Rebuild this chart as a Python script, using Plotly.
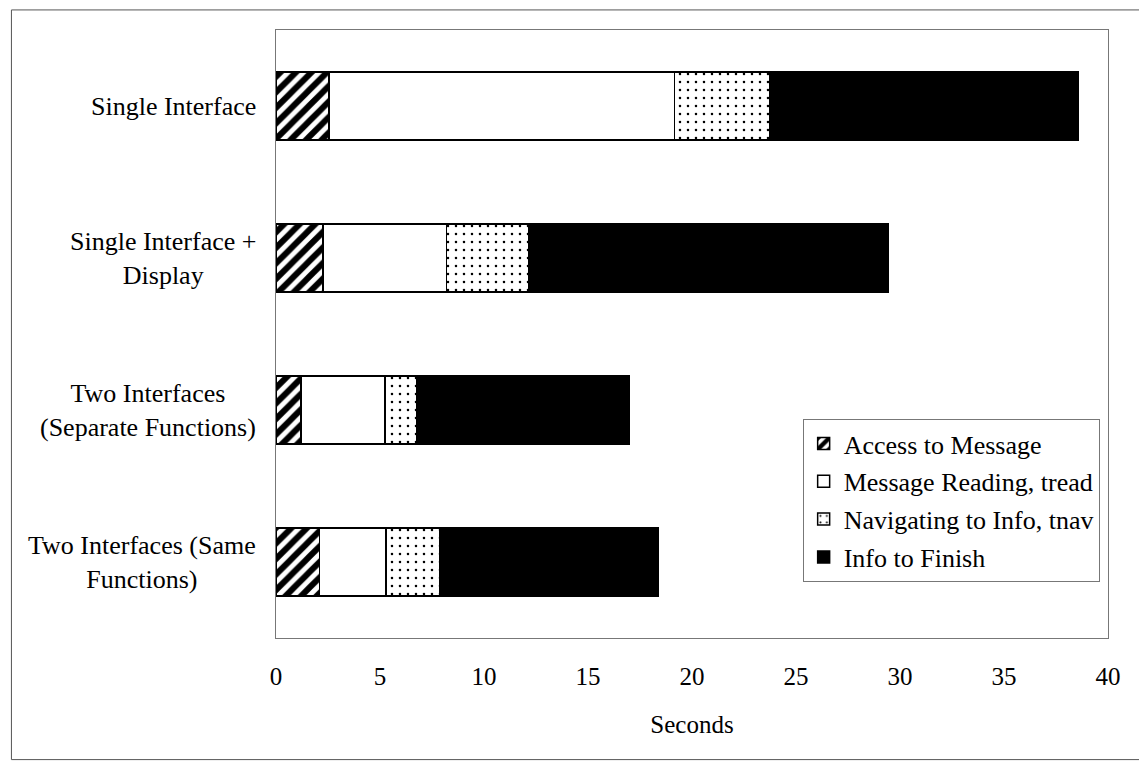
import plotly.graph_objects as go

conditions = ["Single Interface", "Single Interface + Display",
              "Two Interfaces (Separate Functions)", "Two Interfaces (Same Functions)"]
condition_labels = ["Single Interface", "Single Interface +<br>Display",
                    "Two Interfaces<br>(Separate Functions)", "Two Interfaces (Same<br>Functions)"]

access = [2.55, 2.25, 1.2, 2.1]
reading = [16.6, 5.95, 4.05, 3.2]
navigating = [4.6, 3.95, 1.5, 2.55]
finishing = [14.8, 17.3, 10.25, 10.55]

x_ticks = [0, 5, 10, 15, 20, 25, 30, 35, 40]

FONT = "Liberation Serif, Times New Roman, serif"

fig = go.Figure()

# hatched / white / dotted / black segments, as in the original print
series = [
    ("Access to Message", access,
     dict(shape="/", fgcolor="black", bgcolor="white", size=11, solidity=0.55, fgopacity=1)),
    ("Message Reading, tread", reading, dict(shape="", bgcolor="white")),
    ("Navigating to Info, tnav", navigating,
     dict(shape=".", fgcolor="black", bgcolor="white", size=8, solidity=0.08, fgopacity=1)),
    ("Info to Finish", finishing, None),
]
for name, vals, pattern in series:
    marker = dict(color="white" if pattern else "black", line=dict(color="black", width=1.5))
    if pattern:
        marker["pattern"] = pattern
    fig.add_trace(go.Bar(y=conditions, x=vals, name=name, orientation="h",
                         marker=marker, legendgroup=name))

for cond, label in zip(conditions, condition_labels):
    fig.add_annotation(x=-0.022, xref="paper", y=cond, yref="y", text=label,
                       showarrow=False, xanchor="right", align="center",
                       font=dict(family=FONT, size=26, color="black"))

fig.update_layout(
    width=1147, height=768,
    margin=dict(l=268, r=47, t=22, b=138),
    barmode="stack", bargap=0.55,
    plot_bgcolor="white", paper_bgcolor="white",
    font=dict(family=FONT, color="black"),
    legend=dict(x=0.633, y=0.36, xanchor="left", yanchor="top",
                bordercolor="#777", borderwidth=1, bgcolor="white",
                font=dict(family=FONT, size=26), traceorder="grouped",
                tracegroupgap=1),
)
fig.update_xaxes(range=[0, 40], tickvals=x_ticks, showgrid=False, zeroline=False,
                 showline=True, mirror=True, linecolor="#777", linewidth=1,
                 ticks="", ticklabelstandoff=16,
                 tickfont=dict(family=FONT, size=25),
                 title=dict(text="Seconds", font=dict(family=FONT, size=25), standoff=26))
fig.update_yaxes(autorange="reversed", showticklabels=False, showgrid=False,
                 showline=True, mirror=True, linecolor="#777", linewidth=1)

# outer frame of the figure
fig.add_shape(type="rect", xref="paper", yref="paper",
              x0=-0.318, x1=1.042, y0=-0.2, y1=1.033,
              line=dict(color="#555", width=1))

fig.write_html("out.html")
